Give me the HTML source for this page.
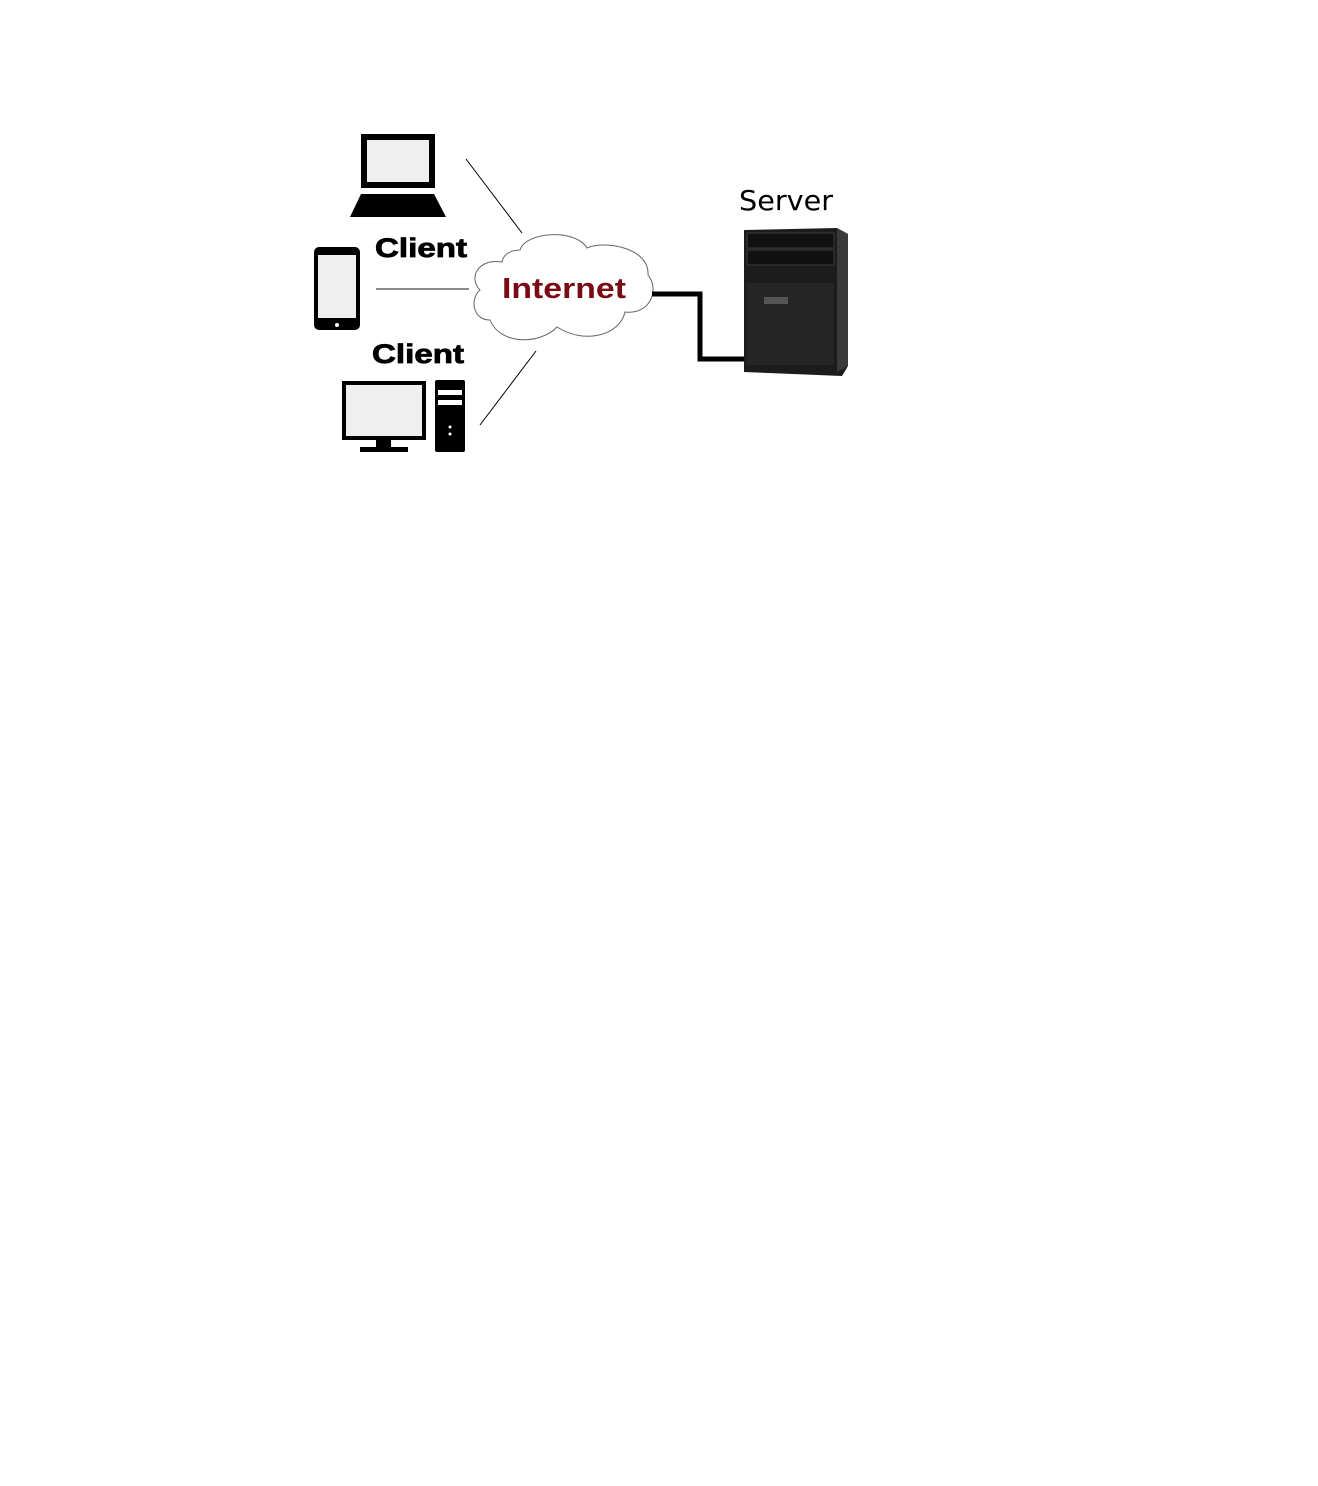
<!DOCTYPE html>
<html><head><style>body{margin:0;background:#fff;width:1318px;height:1481px;overflow:hidden}</style></head>
<body>
<svg width="1318" height="1481" xmlns="http://www.w3.org/2000/svg">
<!-- laptop -->
<rect x="364" y="137" width="68" height="48" fill="#efefef" stroke="#000" stroke-width="6"/>
<polygon points="361,194 434,194 446,217 350,217" fill="#000"/>
<!-- phone -->
<rect x="314" y="247" width="46" height="83" rx="5" fill="#000"/>
<rect x="318" y="255" width="38" height="63" fill="#efefef"/>
<circle cx="337" cy="325" r="2" fill="#fff"/>
<!-- desktop -->
<rect x="344" y="383" width="80" height="55" fill="#efefef" stroke="#000" stroke-width="4"/>
<rect x="376" y="440" width="15" height="8" fill="#000"/>
<rect x="360" y="447" width="48" height="5" fill="#000"/>
<rect x="435" y="380" width="30" height="72" rx="2" fill="#000"/>
<rect x="438" y="390" width="24" height="5" fill="#fff"/>
<rect x="438" y="400" width="24" height="5" fill="#fff"/>
<circle cx="450" cy="427" r="1.5" fill="#fff"/><circle cx="450" cy="434" r="1.5" fill="#fff"/>
<!-- lines -->
<line x1="466" y1="159" x2="522" y2="233" stroke="#000" stroke-width="1"/>
<line x1="376" y1="289" x2="469" y2="289" stroke="#444" stroke-width="1.3"/>
<line x1="536" y1="351" x2="480" y2="425" stroke="#000" stroke-width="1"/>
<!-- cloud -->
<path d="M520,250 C525,232 575,228 587,248 C605,240 650,248 648,275 C660,290 650,315 625,312 C620,335 585,345 557,327 C540,345 500,345 490,320 C472,320 470,298 480,290 C468,278 478,258 502,262 C503,255 510,250 520,250 Z" fill="#fff" stroke="#666" stroke-width="1"/>
<text x="502" y="298" textLength="124" lengthAdjust="spacingAndGlyphs" font-family="Liberation Sans, sans-serif" font-weight="bold" font-size="29" fill="#7a0a14">Internet</text>
<text x="375" y="257" textLength="92" lengthAdjust="spacingAndGlyphs" font-family="Liberation Sans, sans-serif" font-weight="bold" font-size="27" fill="#000" stroke="#000" stroke-width="0.8">Client</text>
<text x="372" y="363" textLength="92" lengthAdjust="spacingAndGlyphs" font-family="Liberation Sans, sans-serif" font-weight="bold" font-size="27" fill="#000" stroke="#000" stroke-width="0.8">Client</text>
<text x="739" y="210" textLength="94" lengthAdjust="spacingAndGlyphs" font-family="DejaVu Sans, sans-serif" font-size="28" fill="#000">Server</text>
<!-- connector -->
<polyline points="652,294 700,294 700,359 746,359" fill="none" stroke="#000" stroke-width="5"/>
<!-- server -->
<polygon points="744,230 837,228 848,234 848,366 842,376 744,372" fill="#1c1c1c"/>
<polygon points="837,228 848,234 848,366 837,372" fill="#3a3a3a"/>
<rect x="747" y="233" width="87" height="15" fill="#111" stroke="#3a3a3a"/>
<rect x="747" y="250" width="87" height="15" fill="#111" stroke="#3a3a3a"/>
<rect x="747" y="283" width="87" height="82" fill="#252525"/>
<rect x="764" y="297" width="24" height="7" fill="#555"/>
</svg>
</body></html>
